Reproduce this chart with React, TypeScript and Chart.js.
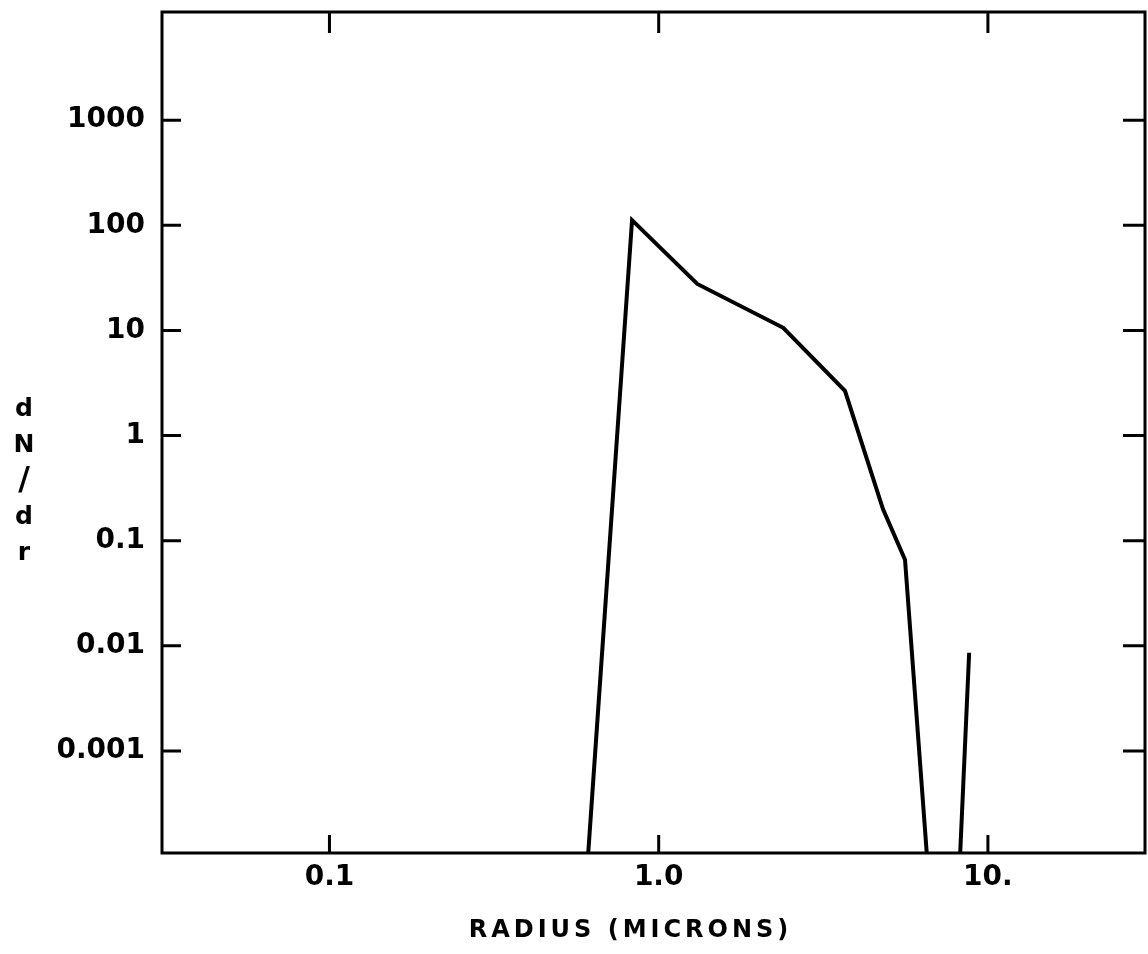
import { useEffect, useRef } from 'react';
import { Chart, registerables } from 'chart.js';

Chart.register(...registerables);

// Main branch of the size distribution (radius in microns, dN/dr)
const mainRadius = [0.61, 0.83, 1.31, 2.39, 3.68, 4.8, 5.6, 6.53];
const mainDensity = [1e-4, 112, 27.7, 10.6, 2.66, 0.2, 0.066, 1e-4];
// Isolated spike near 10 microns
const tailRadius = [8.23, 8.77];
const tailDensity = [1e-4, 0.0086];

const xTickValues = [0.1, 1, 10];
const xTickLabels = ['0.1', '1.0', '10.'];
const yTickValues = [0.001, 0.01, 0.1, 1, 10, 100, 1000];
const yTickLabels = ['0.001', '0.01', '0.1', '1', '10', '100', '1000'];

const xTitle = 'RADIUS (MICRONS)';
const yTitleLetters = ['d', 'N', '/', 'd', 'r'];

const TICK_FONT = { family: 'DejaVu Sans', size: 28, weight: 'bold' as const };

const framePlugin = {
  id: 'framePlugin',
  afterDraw(chart: any) {
    const { ctx, chartArea } = chart;
    const { left, right, top, bottom } = chartArea;
    const xs = chart.scales.x;
    const ys = chart.scales.y;
    ctx.save();
    ctx.strokeStyle = '#000';
    ctx.lineWidth = 3;
    ctx.lineCap = 'butt';
    ctx.strokeRect(left, top, right - left, bottom - top);
    ctx.beginPath();
    xTickValues.forEach((v) => {
      const px = xs.getPixelForValue(v);
      ctx.moveTo(px, bottom);
      ctx.lineTo(px, bottom - 18);
      ctx.moveTo(px, top);
      ctx.lineTo(px, top + 21);
    });
    yTickValues.forEach((v) => {
      const py = ys.getPixelForValue(v);
      ctx.moveTo(left, py);
      ctx.lineTo(left + 19, py);
      ctx.moveTo(right, py);
      ctx.lineTo(right - 22, py);
    });
    ctx.stroke();

    // x axis title
    ctx.fillStyle = '#000';
    ctx.font = 'bold 24px "DejaVu Sans"';
    (ctx as any).letterSpacing = '4px';
    ctx.textAlign = 'center';
    ctx.textBaseline = 'middle';
    ctx.fillText(xTitle, (left + right) / 2 - 23, 931);

    // stacked y axis title
    (ctx as any).letterSpacing = '0px';
    yTitleLetters.forEach((ch, i) => {
      ctx.font = ch === '/' ? 'bold 32px "DejaVu Sans"' : 'bold 25px "DejaVu Sans"';
      ctx.fillText(ch, 24, 409 + i * 36);
    });
    ctx.restore();
  },
};

export default function App() {
  const canvasRef = useRef<HTMLCanvasElement | null>(null);

  useEffect(() => {
    const canvas = canvasRef.current;
    if (!canvas) return;
    const chart = new Chart(canvas, {
      type: 'line',
      data: {
        datasets: [
          {
            data: mainRadius.map((r, i) => ({ x: r, y: mainDensity[i] })),
            borderColor: '#000',
            borderWidth: 4,
            pointRadius: 0,
            tension: 0,
            fill: false,
          },
          {
            data: tailRadius.map((r, i) => ({ x: r, y: tailDensity[i] })),
            borderColor: '#000',
            borderWidth: 4,
            pointRadius: 0,
            tension: 0,
            fill: false,
          },
        ],
      },
      options: {
        animation: false,
        responsive: false,
        maintainAspectRatio: false,
        layout: { padding: { top: 12, right: 3, left: 0, bottom: 0 } },
        plugins: {
          legend: { display: false },
          tooltip: { enabled: false },
          title: { display: false },
        },
        scales: {
          x: {
            type: 'logarithmic',
            min: 0.031,
            max: 30,
            grid: { display: false, drawTicks: false },
            border: { display: false },
            afterBuildTicks: (scale: any) => {
              scale.ticks = xTickValues.map((v) => ({ value: v }));
            },
            afterFit: (scale: any) => {
              scale.height = 101;
              scale.paddingLeft = 0;
              scale.paddingRight = 0;
            },
            ticks: {
              autoSkip: false,
              maxRotation: 0,
              padding: 8,
              color: '#000',
              font: TICK_FONT,
              callback: (value: any) => {
                const i = xTickValues.indexOf(Number(value));
                return i >= 0 ? xTickLabels[i] : '';
              },
            },
          },
          y: {
            type: 'logarithmic',
            min: 1.07e-4,
            max: 1.07e4,
            grid: { display: false, drawTicks: false },
            border: { display: false },
            afterBuildTicks: (scale: any) => {
              scale.ticks = yTickValues.map((v) => ({ value: v }));
            },
            afterFit: (scale: any) => {
              scale.width = 162;
              scale.paddingTop = 0;
              scale.paddingBottom = 0;
            },
            ticks: {
              autoSkip: false,
              padding: 17,
              color: '#000',
              font: TICK_FONT,
              callback: (value: any) => {
                const i = yTickValues.indexOf(Number(value));
                return i >= 0 ? yTickLabels[i] : '';
              },
            },
          },
        },
      },
      plugins: [framePlugin],
    });
    return () => chart.destroy();
  }, []);

  return (
    <div style={{ position: 'absolute', left: 0, top: 0, width: 1148, height: 954, background: '#fff' }}>
      <canvas ref={canvasRef} width={1148} height={954} style={{ display: 'block', width: 1148, height: 954 }} />
    </div>
  );
}
